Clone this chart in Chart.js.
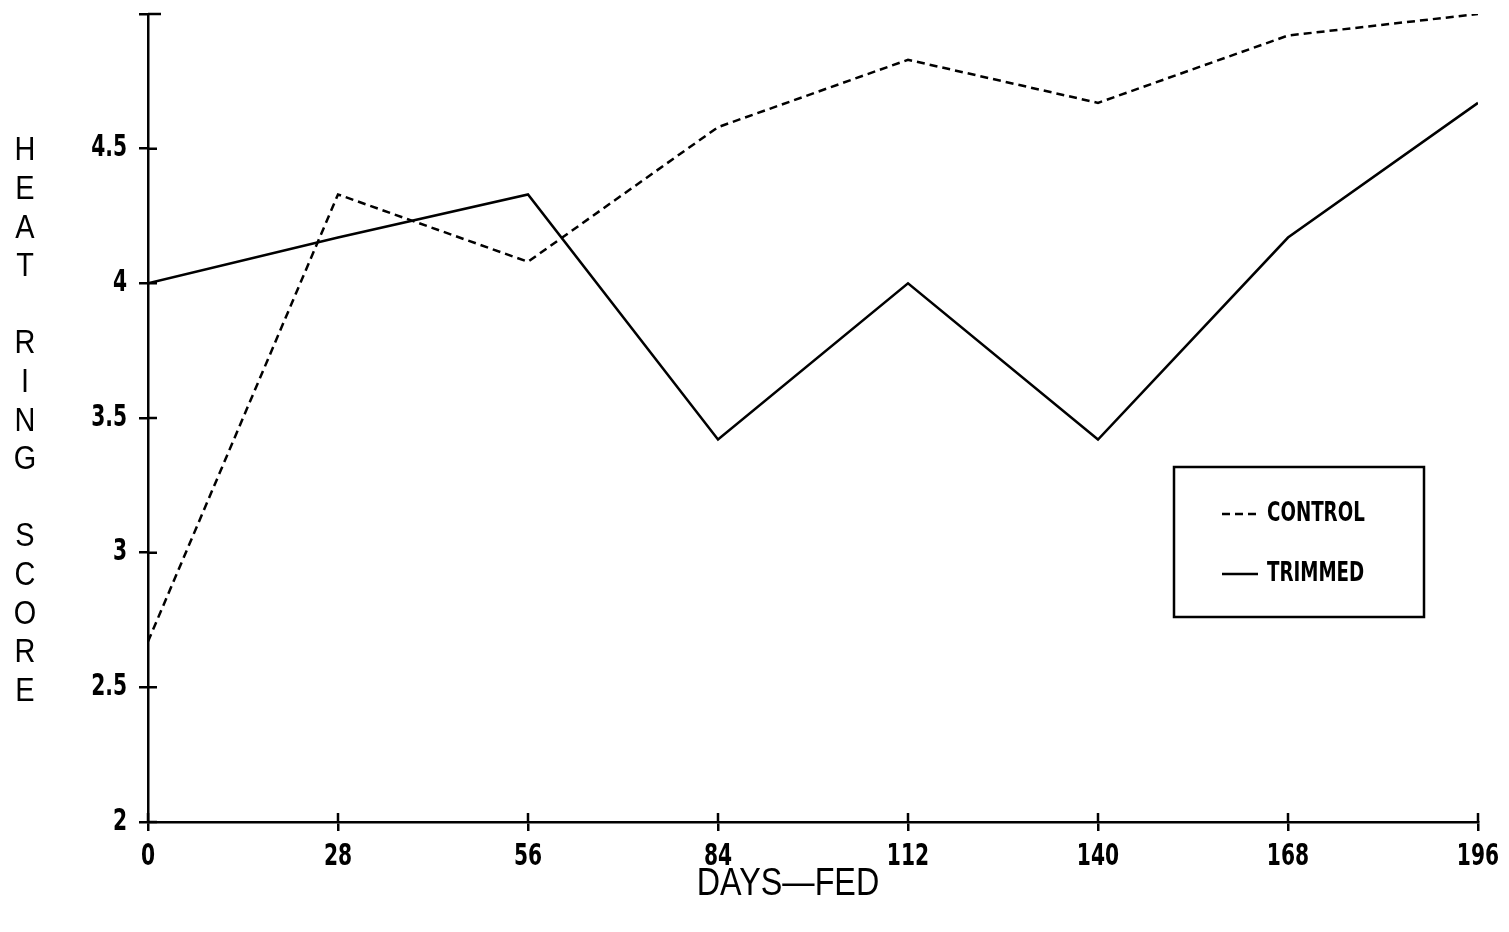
<!DOCTYPE html>
<html lang="en">
<head>
    <meta charset="UTF-8">
    <title>Heat Ring Score</title>
    <script src="https://cdn.jsdelivr.net/npm/chart.js@4.4.0/dist/chart.umd.min.js"></script>
    <style>
        body { margin: 0; background: #fff; }
    </style>
</head>
<body>
    <canvas id="chart" width="1509" height="932"></canvas>
    <script>

// data
const days = [0, 28, 56, 84, 112, 140, 168, 196];
const control = [2.67, 4.33, 4.08, 4.58, 4.83, 4.67, 4.92, 5.0];
const trimmed = [4.0, 4.17, 4.33, 3.42, 4.0, 3.42, 4.17, 4.67];
const yTitle = 'HEAT RING SCORE';
const xTitle = 'DAYS\u2014FED';

const tickFont = "'DejaVu Sans Condensed', 'DejaVu Sans', sans-serif";
const titleFont = "'Liberation Sans', 'DejaVu Sans', sans-serif";

function pts(vals) {
    return days.map((d, i) => ({ x: d, y: vals[i] }));
}

// squeezed text, the plotter font is tall and narrow
function narrowText(ctx, txt, x, y, sx) {
    ctx.save();
    ctx.translate(x, y);
    ctx.scale(sx, 1);
    ctx.fillText(txt, 0, 0);
    ctx.restore();
}

// ticks that cross the axis, tick labels, titles, legend box
const decor = {
    id: 'decor',
    afterDraw(chart) {
        const ctx = chart.ctx;
        const xs = chart.scales.x, ys = chart.scales.y;
        const a = chart.chartArea;
        ctx.save();
        ctx.strokeStyle = '#000';
        ctx.fillStyle = '#000';
        ctx.lineWidth = 2.5;
        ctx.beginPath();
        xs.ticks.forEach(t => {
            const px = xs.getPixelForValue(t.value);
            ctx.moveTo(px, a.bottom);
            ctx.lineTo(px, a.bottom - 9);
        });
        ys.ticks.forEach(t => {
            const py = ys.getPixelForValue(t.value);
            ctx.moveTo(a.left, py);
            ctx.lineTo(a.left + (t.value === 5 ? 13 : 9), py);
        });
        ctx.stroke();

        // tick labels
        ctx.font = 'bold 30px ' + tickFont;
        ctx.textBaseline = 'middle';
        ctx.textAlign = 'center';
        xs.ticks.forEach(t => {
            narrowText(ctx, String(t.value), xs.getPixelForValue(t.value), 857, 0.75);
        });
        ctx.textAlign = 'right';
        ys.ticks.forEach(t => {
            if (t.value === 5) return;
            narrowText(ctx, String(t.value), 127, ys.getPixelForValue(t.value), 0.75);
        });

        // vertical stacked title
        ctx.font = '34px ' + titleFont;
        ctx.textAlign = 'center';
        yTitle.split('').forEach((c, i) => {
            narrowText(ctx, c, 25, 151 + i * 38.6, 0.85);
        });

        ctx.font = '38px ' + titleFont;
        narrowText(ctx, xTitle, 788, 885, 0.85);

        // legend
        ctx.lineWidth = 2.5;
        ctx.strokeRect(1174, 467, 250, 150);
        ctx.font = 'bold 26px ' + tickFont;
        ctx.textAlign = 'left';
        chart.data.datasets.forEach((ds, i) => {
            const y = 514 + i * 60;
            ctx.setLineDash(ds.borderDash || []);
            ctx.lineWidth = ds.borderWidth;
            ctx.beginPath();
            ctx.moveTo(1222, y);
            ctx.lineTo(1258, y);
            ctx.stroke();
            ctx.setLineDash([]);
            narrowText(ctx, ds.label, 1267, y, 0.78);
        });
        ctx.restore();
    }
};

const ctx = document.getElementById('chart').getContext('2d');
new Chart(ctx, {
    type: 'line',
    data: {
        datasets: [{
            label: 'CONTROL',
            data: pts(control),
            borderColor: '#000',
            borderWidth: 2.5,
            borderDash: [8, 5],
            pointRadius: 0,
            tension: 0,
            fill: false
        }, {
            label: 'TRIMMED',
            data: pts(trimmed),
            borderColor: '#000',
            borderWidth: 2.5,
            pointRadius: 0,
            tension: 0,
            fill: false
        }]
    },
    options: {
        responsive: false,
        animation: false,
        layout: { padding: { top: 14, right: 31, left: 0, bottom: 0 } },
        plugins: {
            legend: { display: false },
            tooltip: { enabled: false }
        },
        scales: {
            x: {
                type: 'linear',
                min: 0,
                max: 196,
                afterFit: s => { s.height = 110; },
                afterBuildTicks: s => { s.ticks = days.map(d => ({ value: d })); },
                grid: { drawOnChartArea: false, color: '#000', lineWidth: 2.5, tickLength: 9 },
                border: { color: '#000', width: 2.5 },
                ticks: { display: false }
            },
            y: {
                min: 2,
                max: 5,
                afterFit: s => { s.width = 148; },
                grid: { drawOnChartArea: false, color: '#000', lineWidth: 2.5, tickLength: 9 },
                border: { color: '#000', width: 2.5 },
                ticks: { display: false, stepSize: 0.5 }
            }
        }
    },
    plugins: [decor]
});

    </script>
</body>
</html>
